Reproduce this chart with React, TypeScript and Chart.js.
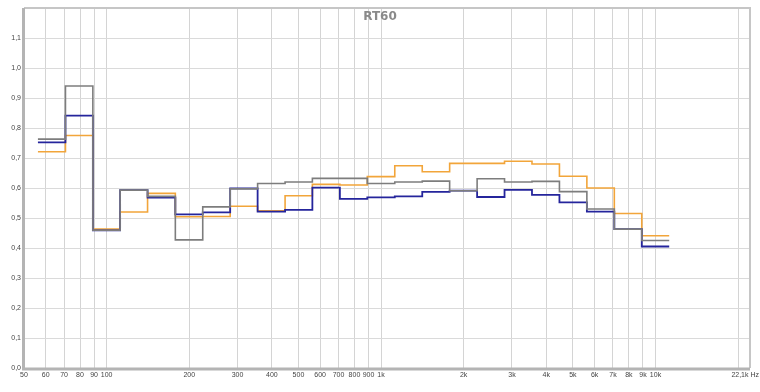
import React, { useEffect, useRef } from "react";
import { Chart, registerables } from "chart.js";

Chart.register(...registerables);

// 1/3-octave band edges (Hz), 63 Hz .. 10 kHz bands
const bandEdges = [56.2, 70.8, 89.1, 112, 141, 178, 224, 282, 355, 447, 562, 708, 891, 1122, 1413, 1778, 2239, 2818, 3548, 4467, 5623, 7079, 8913, 11220];

const grayRT60 = [0.763, 0.94, 0.459, 0.593, 0.572, 0.427, 0.537, 0.597, 0.615, 0.62, 0.632, 0.632, 0.615, 0.62, 0.623, 0.591, 0.631, 0.62, 0.622, 0.588, 0.53, 0.463, 0.425];
const blueRT60 = [0.752, 0.841, 0.459, 0.593, 0.568, 0.512, 0.519, 0.599, 0.521, 0.527, 0.601, 0.564, 0.569, 0.572, 0.587, 0.591, 0.57, 0.594, 0.577, 0.552, 0.521, 0.463, 0.405];
const orangeRT60 = [0.721, 0.775, 0.463, 0.52, 0.582, 0.504, 0.505, 0.539, 0.524, 0.574, 0.612, 0.61, 0.638, 0.674, 0.654, 0.682, 0.682, 0.689, 0.68, 0.639, 0.6, 0.515, 0.441];

const xTickValues = [50, 60, 70, 80, 90, 100, 200, 300, 400, 500, 600, 700, 800, 900, 1000, 2000, 3000, 4000, 5000, 6000, 7000, 8000, 9000, 10000, 20000, 22100];
const xTickLabels = ["50", "60", "70", "80", "90", "100", "200", "300", "400", "500", "600", "700", "800", "900", "1k", "2k", "3k", "4k", "5k", "6k", "7k", "8k", "9k", "10k", "", "22,1k Hz"];

const titleText = "RT60";

function toSteps(vals: number[]) {
  return bandEdges.map((e, i) => ({ x: e, y: vals[Math.min(i, vals.length - 1)] }));
}

const framePlugin = {
  id: "frame",
  beforeDatasetsDraw(chart: any) {
    const { ctx, chartArea: a } = chart;
    ctx.save();
    ctx.strokeStyle = "#c6c6c6";
    ctx.lineWidth = 2;
    ctx.beginPath();
    ctx.moveTo(a.left, a.top);
    ctx.lineTo(a.right, a.top);
    ctx.lineTo(a.right, a.bottom);
    ctx.stroke();
    ctx.strokeStyle = "#b4b4b4";
    ctx.lineWidth = 3;
    ctx.beginPath();
    ctx.moveTo(a.left - 0.5, a.top);
    ctx.lineTo(a.left - 0.5, a.bottom + 1);
    ctx.lineTo(a.right, a.bottom + 1);
    ctx.stroke();
    ctx.restore();
  },
  afterDraw(chart: any) {
    const { ctx, chartArea: a } = chart;
    const xs = chart.scales.x;
    ctx.save();
    ctx.font = "7px 'Liberation Sans', sans-serif";
    ctx.fillStyle = "#444";
    ctx.textBaseline = "middle";
    xTickValues.forEach((v, i) => {
      const lbl = xTickLabels[i];
      if (!lbl) return;
      const px = xs.getPixelForValue(v);
      if (i === xTickValues.length - 1) {
        ctx.textAlign = "right";
        ctx.fillText(lbl, px + 9, a.bottom + 7);
      } else {
        ctx.textAlign = "center";
        ctx.fillText(lbl, px, a.bottom + 7);
      }
    });
    ctx.font = "bold 12px 'DejaVu Sans', sans-serif";
    ctx.fillStyle = "#8a8a8a";
    ctx.textAlign = "center";
    ctx.fillText(titleText, chart.width / 2, a.top + 9);
    ctx.restore();
  },
};

export default function App() {
  const ref = useRef<HTMLCanvasElement>(null);
  useEffect(() => {
    document.body.style.margin = "0";
    const chart = new Chart(ref.current!, {
      type: "line",
      data: {
        datasets: [
          { data: toSteps(grayRT60), borderColor: "#7d7d7d", borderWidth: 1.6, stepped: true, pointRadius: 0, fill: false },
          { data: toSteps(blueRT60), borderColor: "#25259c", borderWidth: 1.8, stepped: true, pointRadius: 0, fill: false },
          { data: toSteps(orangeRT60), borderColor: "#f2a53a", borderWidth: 1.6, stepped: true, pointRadius: 0, fill: false },
        ],
      },
      options: {
        responsive: false,
        animation: false,
        layout: { padding: { top: 8, right: 10, left: 0, bottom: 0 } },
        plugins: { legend: { display: false }, tooltip: { enabled: false }, title: { display: false } },
        scales: {
          x: {
            type: "logarithmic",
            min: 50,
            max: 22100,
            afterBuildTicks: (scale: any) => {
              scale.ticks = xTickValues.map((v) => ({ value: v }));
            },
            afterFit: (scale: any) => {
              scale.height = 24;
            },
            ticks: { display: false },
            grid: { color: "#d4d4d4", lineWidth: 1, drawTicks: false },
            border: { display: false },
          },
          y: {
            type: "linear",
            min: 0,
            max: 1.2,
            afterFit: (scale: any) => {
              scale.width = 24;
            },
            ticks: {
              stepSize: 0.1,
              padding: 3,
              color: "#444",
              font: { size: 7, family: "'Liberation Sans', sans-serif" },
              callback: (v: any) => (Math.abs(v - 1.2) < 1e-6 ? "" : Number(v).toFixed(1).replace(".", ",")),
            },
            grid: { color: "#dadada", lineWidth: 1, drawTicks: false },
            border: { display: false },
          },
        },
      },
      plugins: [framePlugin],
    });
    return () => chart.destroy();
  }, []);
  return (
    <div style={{ width: 760, height: 392 }}>
      <canvas ref={ref} width={760} height={392} />
    </div>
  );
}
